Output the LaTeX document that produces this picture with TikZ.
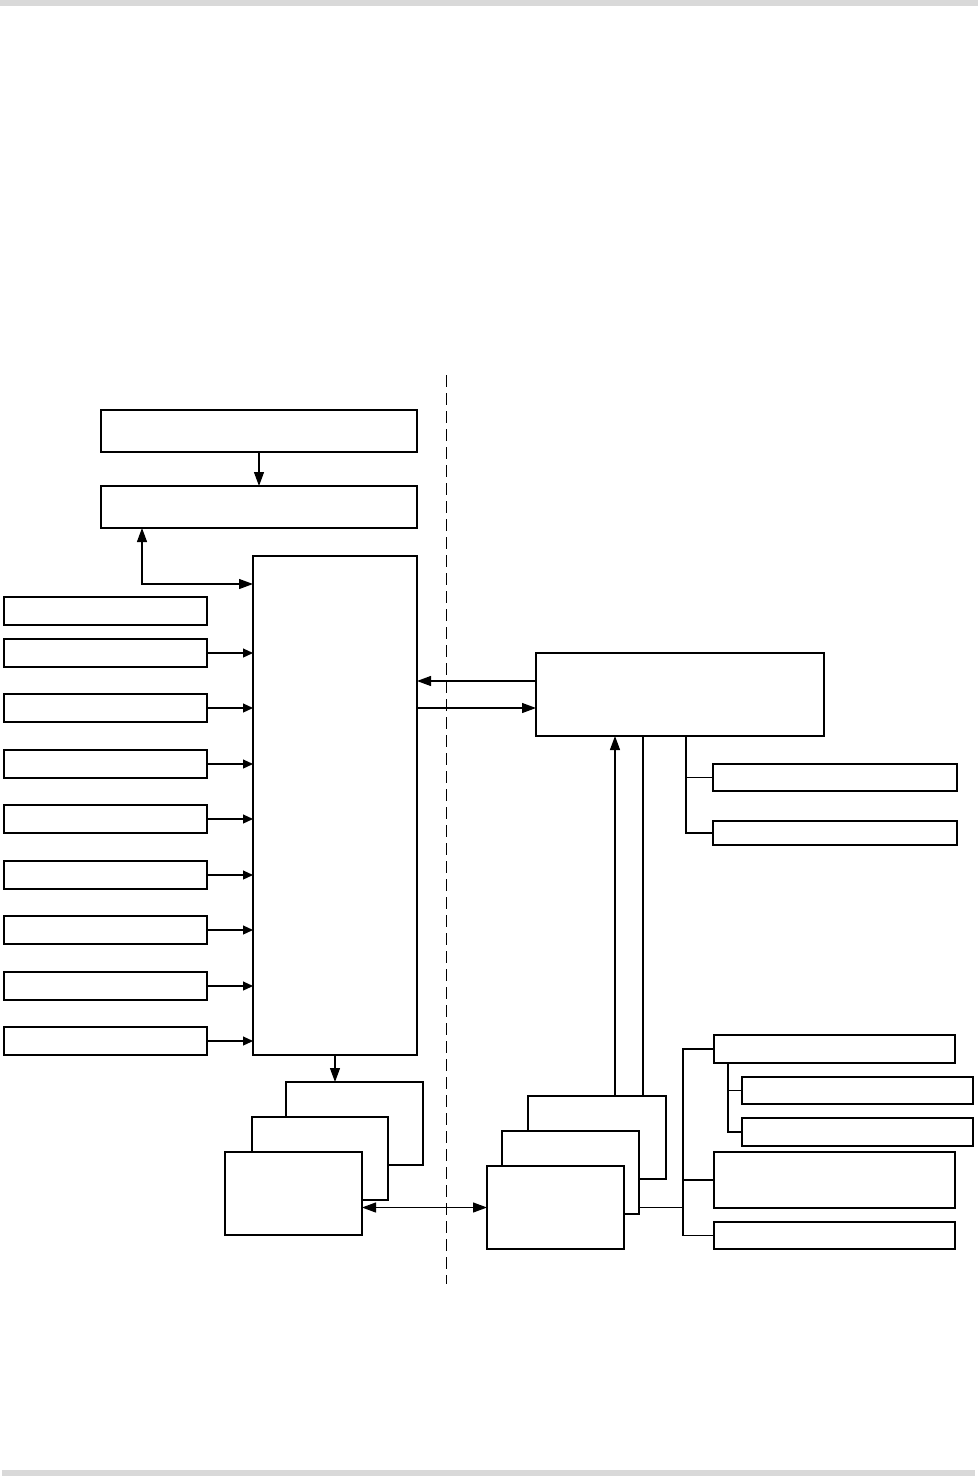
\documentclass[tikz,border=0pt]{standalone}
\usetikzlibrary{arrows.meta}
\definecolor{bargray}{RGB}{217,217,217}
\tikzset{
  box/.style={draw=black,fill=white,line width=1.2pt,inner sep=0pt,outer sep=0pt,rectangle},
  wire/.style={line width=1.2pt},
  arr/.style={wire,-{Triangle[length=10pt,width=9pt]}},
  arrbig/.style={wire,-{Triangle[length=14pt,width=10pt]}},
  arrboth/.style={wire,{Triangle[length=14pt,width=10pt]}-{Triangle[length=14pt,width=10pt]}},
  sep/.style={line width=1pt,dash pattern=on 12pt off 6pt}
}
\newcommand\bx[5]{\node[box,anchor=north west,minimum width={(#4-#2)*1pt},minimum height={(#5-#3)*1pt}] (#1) at (#2,#3) {};}
\begin{document}
\begin{tikzpicture}[x=1pt,y=-1pt]
\useasboundingbox (0,0) rectangle (978,1476);
\fill[bargray] (0,0) rectangle (978,6);
\fill[bargray] (2,1470) rectangle (975,1476);
% separator
\coordinate (s1) at (446,375);
\coordinate (s2) at (446,1284);
\draw[sep] (s1) -- (s2);
% top boxes
\bx{A}{101}{410}{417}{452}
\bx{B}{101}{486}{417}{528}
\bx{C}{253}{556}{417}{1055}
\draw[arrbig] (A.south) -- (B.north);
\coordinate (bc) at ([xshift=41pt]B.south west);
\coordinate (cb) at ([yshift=-28pt]C.north west);
\draw[arrboth] (bc) |- (cb);
% left column
\bx{L0}{4}{597}{207}{625}
\bx{L1}{4}{639}{207}{667}
\bx{L2}{4}{694}{207}{722}
\bx{L3}{4}{750}{207}{778}
\bx{L4}{4}{805}{207}{833}
\bx{L5}{4}{861}{207}{889}
\bx{L6}{4}{916}{207}{944}
\bx{L7}{4}{972}{207}{1000}
\bx{L8}{4}{1027}{207}{1055}
\foreach \i in {1,...,8}{\draw[arr] (L\i.east) -- (L\i.east -| C.west);}
% bottom-left stack
\bx{S1}{286}{1082}{423}{1165}
\bx{S2}{252}{1117}{388}{1200}
\bx{S3}{225}{1152}{362}{1235}
\draw[arrbig] (C.south) -- (C.south |- S1.north);
% right main box
\bx{D}{536}{653}{824}{736}
\coordinate (d1) at ([yshift=-28pt]D.north west);
\coordinate (d2) at ([yshift=-55pt]D.north west);
\draw[arrbig] (d1) -- (d1 -| C.east);
\draw[arrbig] (d2 -| C.east) -- (d2);
\bx{E1}{713}{764}{957}{791}
\bx{E2}{713}{821}{957}{845}
\coordinate (dt) at ([xshift=150pt]D.south west);
\draw[wire] (dt) |- (E2.west);
\draw[wire] (E1.west -| dt) -- (E1.west);
% bottom-right stack
\bx{T1}{528}{1096}{666}{1179}
\bx{T2}{502}{1131}{639}{1214}
\bx{T3}{487}{1166}{624}{1249}
\draw[arrboth] (S3.east |- T3.west) -- (T3.west);
\coordinate (t1) at ([xshift=18pt]T1.north);
\coordinate (t2) at ([xshift=46pt]T1.north);
\draw[arrbig] (t1) -- (t1 |- D.south);
\draw[wire] (t2) -- (t2 |- D.south);
% right boxes lower
\bx{F1}{714}{1035}{955}{1063}
\bx{G1}{742}{1077}{973}{1104}
\bx{G2}{742}{1118}{973}{1146}
\bx{F2}{714}{1152}{955}{1208}
\bx{F3}{714}{1222}{955}{1249}
\coordinate (bx) at (683,0);
\coordinate (sx) at (728,0);
\draw[wire] (F1.west) -- (F1.west -| bx) |- (F3.west);
\draw[wire] (F2.west) -- (F2.west -| bx);
\draw[wire] (T2.east |- T3.west) -- (T3.west -| bx);
\draw[wire] (F1.south west -| sx) |- (G2.west);
\draw[wire] (G1.west) -- (G1.west -| sx);
\end{tikzpicture}
\end{document}
